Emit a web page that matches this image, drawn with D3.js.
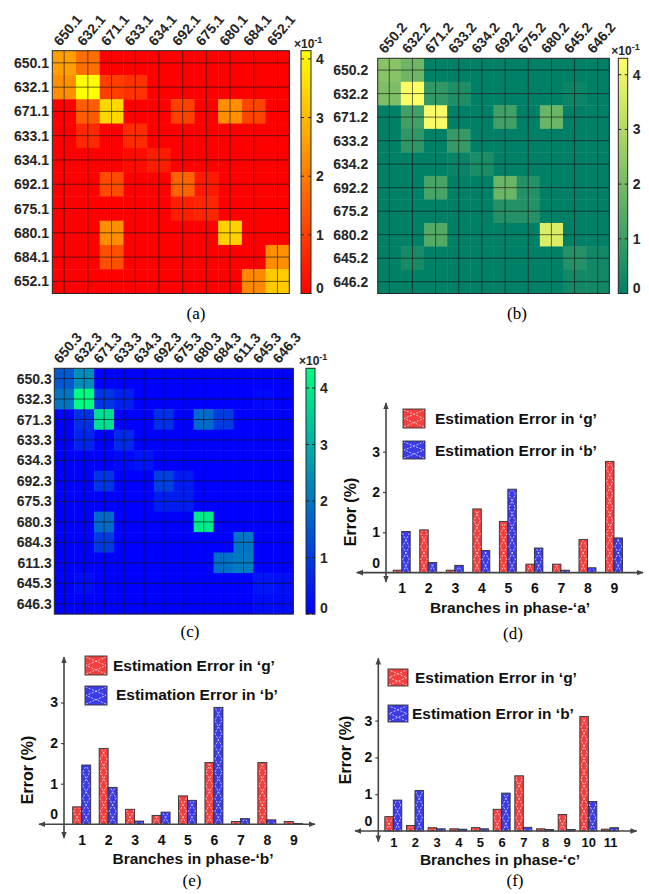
<!DOCTYPE html>
<html>
<head>
<meta charset="utf-8">
<script src="https://cdn.jsdelivr.net/npm/d3@7/dist/d3.min.js"></script>
<style>
  body { margin: 0; background: #fff; }
  svg text { font-family: "Liberation Sans", Arial, sans-serif; font-weight: bold; }
  svg text.cap { font-family: "Liberation Serif", "Times New Roman", serif; font-weight: normal; font-size: 17px; }
</style>
</head>
<body>
<svg id="fig" width="649" height="894"></svg>
<script>
// ---------- heat maps (x10^-1) ----------
const nodesA = ['650.1', '632.1', '671.1', '633.1', '634.1', '692.1', '675.1', '680.1', '684.1', '652.1'];
const cellsA = [
  [2.6, 1.8, 0, 0, 0, 0, 0, 0, 0, 0],
  [2.3, 4.14, 1.0, 0.8, 0, 0, 0, 0, 0, 0],
  [0, 1.5, 3.5, 0, 0, 1.05, 0, 2.3, 1.1, 0],
  [0, 0.65, 0, 0.7, 0, 0, 0, 0, 0, 0],
  [0, 0, 0, 0.2, 0.45, 0, 0, 0, 0, 0],
  [0, 0, 1.2, 0, 0, 1.6, 0.4, 0, 0, 0],
  [0, 0, 0, 0, 0, 0.5, 0.6, 0, 0, 0],
  [0, 0, 2.3, 0, 0, 0, 0, 3.4, 0, 0],
  [0, 0, 1.3, 0, 0, 0, 0, 0, 0, 2.3],
  [0, 0, 0, 0, 0, 0, 0, 0, 2.2, 3.3]
];

const nodesB = ['650.2', '632.2', '671.2', '633.2', '634.2', '692.2', '675.2', '680.2', '645.2', '646.2'];
const cellsB = [
  [2.3, 1.85, 0, 0, 0, 0, 0, 0, 0, 0],
  [2.1, 4.3, 0.85, 0.5, 0, 0, 0, 0, 0.2, 0],
  [0, 1.1, 4.2, 0, 0, 1.1, 0, 1.8, 0, 0],
  [0, 0.8, 0, 0.9, 0, 0, 0, 0, 0, 0],
  [0, 0, 0, 0.15, 0.45, 0, 0, 0, 0, 0],
  [0, 0, 1.2, 0, 0, 1.8, 0.6, 0, 0, 0],
  [0, 0, 0, 0, 0, 0.6, 0.6, 0, 0, 0],
  [0, 0, 1.4, 0, 0, 0, 0, 3.7, 0, 0],
  [0, 0.4, 0, 0, 0, 0, 0, 0, 0.6, 0.3],
  [0, 0, 0, 0, 0, 0, 0, 0, 0.3, 0.3]
];

const nodesC = ['650.3', '632.3', '671.3', '633.3', '634.3', '692.3', '675.3', '680.3', '684.3', '611.3', '645.3', '646.3'];
const cellsC = [
  [1.5, 2.4, 0, 0, 0, 0, 0, 0, 0, 0, 0, 0],
  [2.0, 4.35, 0.9, 0.55, 0, 0, 0, 0, 0, 0, 0.15, 0],
  [0, 0.8, 3.8, 0, 0, 0.8, 0, 1.8, 1.0, 0, 0, 0],
  [0, 0.6, 0, 0.7, 0, 0, 0, 0, 0, 0, 0, 0],
  [0, 0, 0, 0.15, 0.3, 0, 0, 0, 0, 0, 0, 0],
  [0, 0, 0.9, 0, 0, 1.1, 0.45, 0, 0, 0, 0, 0],
  [0, 0, 0, 0, 0, 0.5, 0.5, 0, 0, 0, 0, 0],
  [0, 0, 1.8, 0, 0, 0, 0, 4.0, 0, 0, 0, 0],
  [0, 0, 1.0, 0, 0, 0, 0, 0, 0, 2.0, 0, 0],
  [0, 0, 0, 0, 0, 0, 0, 0, 1.9, 2.1, 0, 0],
  [0, 0.2, 0, 0, 0, 0, 0, 0, 0, 0, 0.35, 0.25],
  [0, 0, 0, 0, 0, 0, 0, 0, 0, 0, 0.2, 0.2]
];
const cbTicks = [0, 1, 2, 3, 4];

// ---------- bar charts (error %) ----------
const branchesA = [1, 2, 3, 4, 5, 6, 7, 8, 9];
const gErrA = [0.06, 1.06, 0.06, 1.58, 1.27, 0.21, 0.21, 0.82, 2.76];
const bErrA = [1.02, 0.25, 0.18, 0.55, 2.07, 0.61, 0.06, 0.12, 0.86];

const branchesB = [1, 2, 3, 4, 5, 6, 7, 8, 9];
const gErrB = [0.43, 1.87, 0.37, 0.22, 0.70, 1.52, 0.07, 1.52, 0.07];
const bErrB = [1.46, 0.91, 0.08, 0.30, 0.59, 2.88, 0.14, 0.11, 0.02];

const branchesC = [1, 2, 3, 4, 5, 6, 7, 8, 9, 10, 11];
const gErrC = [0.39, 0.15, 0.09, 0.06, 0.09, 0.59, 1.50, 0.06, 0.45, 3.11, 0.05];
const bErrC = [0.84, 1.10, 0.06, 0.05, 0.06, 1.03, 0.10, 0.04, 0.04, 0.80, 0.09];

const yTicks = [0, 1, 2, 3];

const svg = d3.select('#fig');
const defs = svg.append('defs');

// matlab style colormaps
const autumn = t => d3.rgb(255, 255 * t, 0) + '';
const summer = t => d3.rgb(255 * t, 255 * (0.5 + 0.5 * t), 102) + '';
const winter = t => d3.rgb(0, 255 * t, 255 * (1 - 0.5 * t)) + '';

const RED = '#f23f3f', BLUE = '#3b3be8', AXC = '#444';

defs.append('marker')
  .attr('id', 'arr')
  .attr('viewBox', '0 0 10 10')
  .attr('refX', 9).attr('refY', 5)
  .attr('markerWidth', 7).attr('markerHeight', 7)
  .attr('markerUnits', 'userSpaceOnUse')
  .attr('orient', 'auto-start-reverse')
  .append('path').attr('d', 'M0,1L10,5L0,9Z').attr('fill', AXC);

function heatmap(c) {
  const g = svg.append('g');
  const x = d3.scaleBand().domain(c.nodes).range([c.left, c.right]);
  const y = d3.scaleBand().domain(c.nodes).range([c.top, c.bottom]);
  const vmax = d3.max(c.cells, r => d3.max(r));
  const color = d3.scaleSequential(c.cmap).domain([0, vmax]);

  const flat = [];
  c.cells.forEach((row, i) => row.forEach((v, j) => flat.push({r: c.nodes[i], c: c.nodes[j], v: v})));

  g.selectAll('rect.cell').data(flat).join('rect')
    .attr('class', 'cell')
    .attr('x', d => x(d.c)).attr('y', d => y(d.r))
    .attr('width', x.bandwidth() + 0.4).attr('height', y.bandwidth() + 0.4)
    .attr('fill', d => color(d.v));

  const hx = x.bandwidth() / 2, hy = y.bandwidth() / 2;
  // grid sits on the ticks (cell centres)
  g.selectAll('line.gx').data(c.nodes).join('line')
    .attr('x1', d => x(d) + hx).attr('x2', d => x(d) + hx)
    .attr('y1', c.top).attr('y2', c.bottom)
    .attr('stroke', '#151515').attr('stroke-opacity', 0.7).attr('stroke-width', 0.9);
  g.selectAll('line.gy').data(c.nodes).join('line')
    .attr('y1', d => y(d) + hy).attr('y2', d => y(d) + hy)
    .attr('x1', c.left).attr('x2', c.right)
    .attr('stroke', '#151515').attr('stroke-opacity', 0.7).attr('stroke-width', 0.9);
  g.append('rect')
    .attr('x', c.left).attr('y', c.top)
    .attr('width', c.right - c.left).attr('height', c.bottom - c.top)
    .attr('fill', 'none').attr('stroke', '#262626').attr('stroke-width', 1);

  g.selectAll('text.row').data(c.nodes).join('text')
    .attr('x', c.left - c.rowGap).attr('y', d => y(d) + hy).attr('dy', '0.36em')
    .attr('text-anchor', 'end').attr('fill', '#262626')
    .style('font-size', '14px').text(d => d);
  g.selectAll('text.col').data(c.nodes).join('text')
    .attr('transform', d => `translate(${x(d) + hx - 4},${c.top - 4}) rotate(-50)`)
    .attr('fill', '#262626').style('font-size', '14px').text(d => d);

  // colour bar
  const grad = defs.append('linearGradient').attr('id', c.id)
    .attr('x1', 0).attr('y1', 1).attr('x2', 0).attr('y2', 0);
  d3.range(0, 1.0001, 0.05).forEach(t => {
    grad.append('stop').attr('offset', t).attr('stop-color', c.cmap(t));
  });
  const cy = d3.scaleLinear().domain([0, vmax]).range([c.bottom, c.top]);
  g.append('rect')
    .attr('x', c.cbLeft).attr('y', c.top)
    .attr('width', c.cbRight - c.cbLeft).attr('height', c.bottom - c.top)
    .attr('fill', `url(#${c.id})`).attr('stroke', '#262626').attr('stroke-width', 1);
  g.selectAll('line.ct').data(cbTicks).join('line')
    .attr('x1', c.cbLeft).attr('x2', c.cbLeft + 3)
    .attr('y1', d => cy(d)).attr('y2', d => cy(d)).attr('stroke', '#262626');
  g.selectAll('line.ct2').data(cbTicks).join('line')
    .attr('x1', c.cbRight - 3).attr('x2', c.cbRight)
    .attr('y1', d => cy(d)).attr('y2', d => cy(d)).attr('stroke', '#262626');
  g.selectAll('text.ct').data(cbTicks).join('text')
    .attr('x', c.cbRight + 5).attr('y', d => cy(d) - (d === 0 ? 6 : 0)).attr('dy', '0.36em')
    .attr('fill', '#262626').style('font-size', '14px').text(d => d);
  const m = g.append('text')
    .attr('x', c.cbLeft - 7).attr('y', c.top - 3)
    .attr('fill', '#262626').style('font-size', '12px');
  m.append('tspan').text('×10');
  m.append('tspan').attr('dy', -5).style('font-size', '9px').text('-1');

  svg.append('text').attr('class', 'cap')
    .attr('x', c.capX).attr('y', c.capY).attr('text-anchor', 'middle').text(c.cap);
}

// two crossing zig-zags, the white hatch inside each bar
function cross(x0, w, top, bot, h) {
  if (bot - top < 1) return '';
  const zig = startLeft => {
    const pts = [];
    for (let k = 0; ; k++) {
      const yy = bot - k * h;
      const xx = ((k % 2 === 0) === startLeft) ? x0 : x0 + w;
      if (yy <= top) {
        const p = pts[pts.length - 1];
        const f = (p[1] - top) / h;
        pts.push([p[0] + (xx - p[0]) * f, top]);
        break;
      }
      pts.push([xx, yy]);
    }
    return d3.line()(pts);
  };
  return zig(true) + zig(false);
}

function barChart(c) {
  const g = svg.append('g');
  const x = d3.scalePoint().domain(c.branches).range([c.c0, c.c1]);
  const y = d3.scaleLinear().domain([0, 3]).range([c.zero, c.zero - 3 * c.unit]);
  const data = c.branches.map((b, i) => ({b: b, g: c.g[i], bv: c.b[i]}));
  const series = [
    {key: 'g', fill: RED, dx: -c.bw},
    {key: 'bv', fill: BLUE, dx: 0}
  ];

  series.forEach(s => {
    const bars = g.selectAll(null).data(data).join('g');
    bars.append('rect')
      .attr('x', d => x(d.b) + s.dx).attr('y', d => y(d[s.key]))
      .attr('width', c.bw).attr('height', d => c.zero - y(d[s.key]))
      .attr('fill', s.fill).attr('stroke', '#333').attr('stroke-width', 0.9);
    bars.append('path')
      .attr('d', d => cross(x(d.b) + s.dx + 1, c.bw - 2, y(d[s.key]) + 1, c.zero, 13))
      .attr('fill', 'none').attr('stroke', '#fff').attr('stroke-opacity', 0.75)
      .attr('stroke-width', 0.9).attr('stroke-dasharray', '2,1.5');
  });

  // axes with arrows on both ends
  g.append('line')
    .attr('x1', c.xl).attr('x2', c.xr).attr('y1', c.zero).attr('y2', c.zero)
    .attr('stroke', AXC).attr('stroke-width', 1.6)
    .attr('marker-start', 'url(#arr)').attr('marker-end', 'url(#arr)');
  g.append('line')
    .attr('x1', c.yx).attr('x2', c.yx).attr('y1', c.yb).attr('y2', c.yt)
    .attr('stroke', AXC).attr('stroke-width', 1.6)
    .attr('marker-start', 'url(#arr)').attr('marker-end', 'url(#arr)');

  const xa = g.append('g').attr('transform', `translate(0,${c.zero})`)
    .call(d3.axisBottom(x).tickSize(0).tickPadding(c.xPad));
  xa.select('.domain').remove();
  xa.selectAll('text').style('font-size', c.xFont + 'px').attr('fill', '#111');

  const ya = g.append('g').attr('transform', `translate(${c.yx},0)`)
    .call(d3.axisLeft(y).tickValues(yTicks).tickFormat(d3.format('d')).tickSize(3).tickPadding(3));
  ya.select('.domain').remove();
  ya.selectAll('line').attr('stroke', AXC).attr('stroke-width', 1.2);
  ya.selectAll('.tick').filter(d => d === 0).select('line').remove();
  ya.selectAll('text').style('font-size', '14px').attr('fill', '#111');
  ya.selectAll('.tick').filter(d => d === 0).select('text').attr('y', -10);

  g.append('text')
    .attr('transform', `translate(${c.ytX},${c.ytY}) rotate(-90)`)
    .attr('text-anchor', 'middle').attr('dy', '0.36em')
    .style('font-size', '16px').attr('fill', '#111').text('Error (%)');
  g.append('text')
    .attr('x', c.xtX).attr('y', c.xtY).attr('dy', '0.36em')
    .attr('text-anchor', 'middle').style('font-size', '15.5px').attr('fill', '#111')
    .text(c.xTitle);

  // legend
  const leg = [
    {fill: RED, name: 'Estimation Error in \u2018g\u2019', sw: c.lg[0], tx: c.lg[1]},
    {fill: BLUE, name: 'Estimation Error in \u2018b\u2019', sw: c.lb[0], tx: c.lb[1]}
  ];
  leg.forEach(l => {
    g.append('rect')
      .attr('x', l.sw[0]).attr('y', l.sw[1]).attr('width', l.sw[2]).attr('height', l.sw[3])
      .attr('fill', l.fill).attr('stroke', '#333').attr('stroke-width', 0.9);
    g.append('path')
      .attr('d', cross(l.sw[0] + 1, l.sw[2] - 2, l.sw[1] + 1, l.sw[1] + l.sw[3] - 1, (l.sw[3] - 2) / 2))
      .attr('fill', 'none').attr('stroke', '#fff').attr('stroke-opacity', 0.75)
      .attr('stroke-width', 0.9).attr('stroke-dasharray', '2,1.5');
    g.append('text')
      .attr('x', l.tx[0]).attr('y', l.tx[1])
      .style('font-size', '15.5px').attr('fill', '#111').text(l.name);
  });

  svg.append('text').attr('class', 'cap')
    .attr('x', c.capX).attr('y', c.capY).attr('text-anchor', 'middle').text(c.cap);
}

heatmap({id: 'cbA', nodes: nodesA, cells: cellsA, cmap: autumn,
  left: 52.3, right: 289.3, top: 50.7, bottom: 293.5, rowGap: 3.3,
  cbLeft: 301, cbRight: 311, capX: 196, capY: 319, cap: '(a)'});
heatmap({id: 'cbB', nodes: nodesB, cells: cellsB, cmap: summer,
  left: 377.7, right: 609.3, top: 58.3, bottom: 293.5, rowGap: 9.5,
  cbLeft: 618.3, cbRight: 627.7, capX: 517, capY: 319, cap: '(b)'});
heatmap({id: 'cbC', nodes: nodesC, cells: cellsC, cmap: winter,
  left: 54.3, right: 293.3, top: 368.3, bottom: 614, rowGap: 2.6,
  cbLeft: 306, cbRight: 315, capX: 190, capY: 637, cap: '(c)'});

barChart({branches: branchesA, g: gErrA, b: bErrA,
  c0: 401.7, c1: 614, bw: 8.5, zero: 572.6, unit: 40.3,
  xl: 356.7, xr: 643, yx: 386, yt: 403, yb: 582, xPad: 10.5, xFont: 14,
  ytX: 350, ytY: 512, xtX: 510, xtY: 607, xTitle: 'Branches in phase-\u2018a\u2019',
  lg: [[403, 409, 22, 19], [435, 424]], lb: [[403, 441, 22, 18], [435, 456]],
  capX: 513, capY: 639, cap: '(d)'});
barChart({branches: branchesB, g: gErrB, b: bErrB,
  c0: 81.7, c1: 293.3, bw: 9, zero: 824.3, unit: 40.6,
  xl: 39, xr: 315, yx: 64, yt: 657, yb: 838, xPad: 10.5, xFont: 14,
  ytX: 27, ytY: 770, xtX: 193, xtY: 858, xTitle: 'Branches in phase-\u2018b\u2019',
  lg: [[85, 656, 22, 19], [113, 671]], lb: [[85, 686, 22, 19], [116, 700]],
  capX: 192, capY: 886, cap: '(e)'});
barChart({branches: branchesC, g: gErrC, b: bErrC,
  c0: 393.3, c1: 610, bw: 8.5, zero: 831, unit: 36.8,
  xl: 355, xr: 636.7, yx: 378.3, yt: 658.3, yb: 841.7, xPad: 6.5, xFont: 13,
  ytX: 345, ytY: 750, xtX: 500, xtY: 859, xTitle: 'Branches in phase-\u2018c\u2019',
  lg: [[388, 669, 20, 17], [415, 683]], lb: [[388, 705, 20, 17], [412, 719]],
  capX: 515, capY: 886, cap: '(f)'});
</script>
</body>
</html>
